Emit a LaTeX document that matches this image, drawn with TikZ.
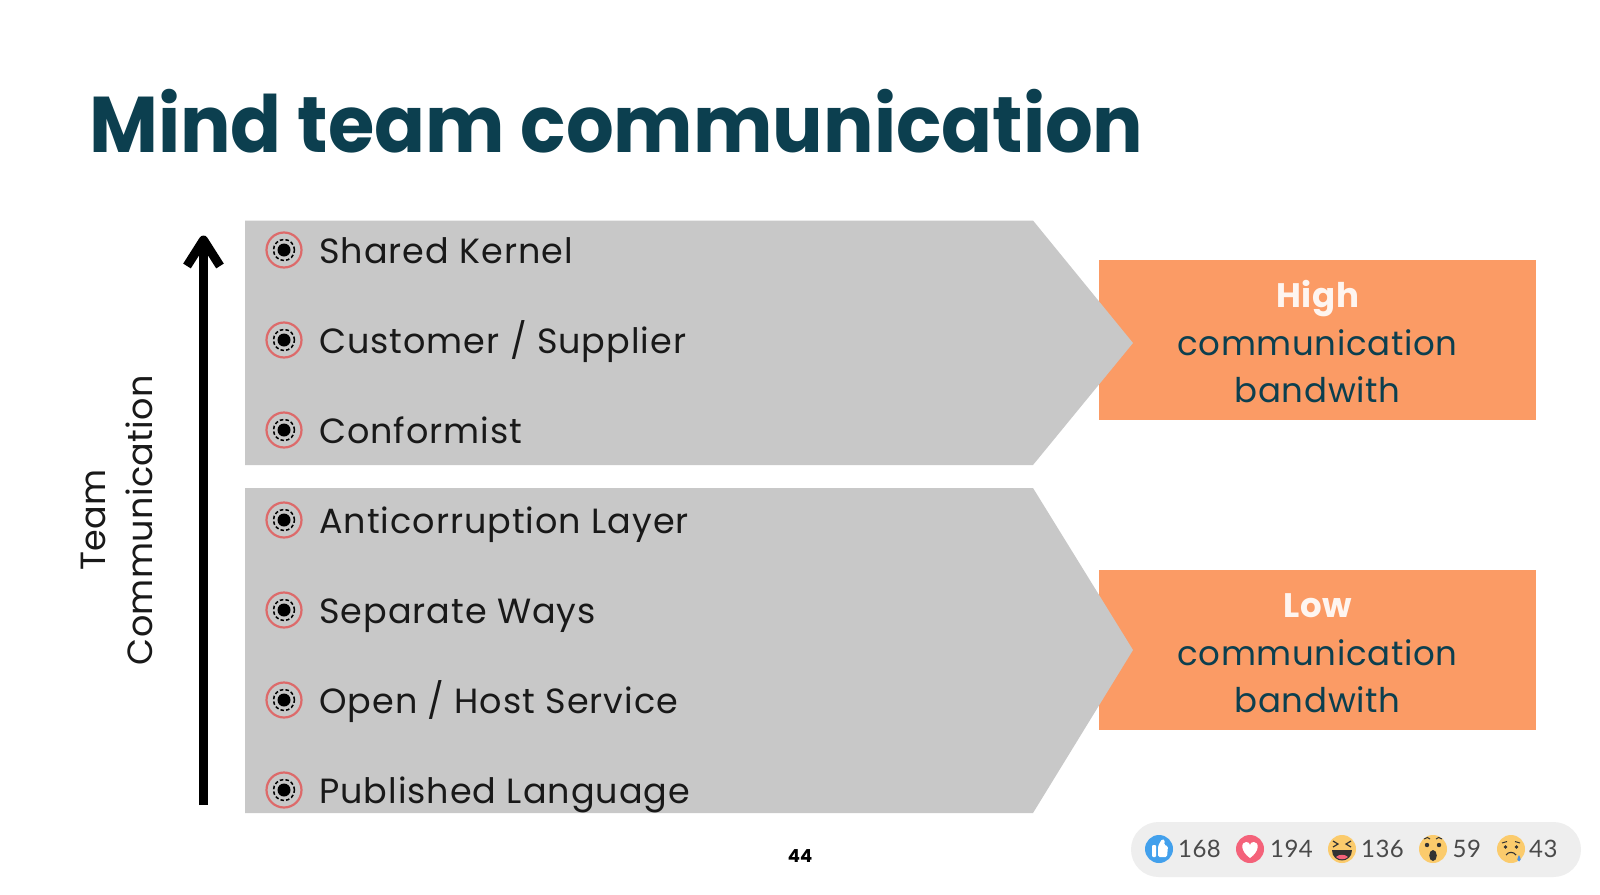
\documentclass[tikz,border=0pt]{standalone}
\usepackage{fontspec}
\setmainfont{Poppins}
\newfontfamily\numfont[LetterSpace=2]{Lato}
\newfontfamily\itemfont[LetterSpace=2.8]{Poppins}
\newfontfamily\bandfont[LetterSpace=2]{Poppins}
\newfontfamily\axisfont[LetterSpace=1]{Poppins}
\usetikzlibrary{arrows.meta}
\definecolor{teal}{HTML}{0C3F4F}
\definecolor{chev}{HTML}{C8C8C8}
\definecolor{orng}{HTML}{FB9B65}
\definecolor{ringred}{HTML}{DD6A6A}
\definecolor{pill}{HTML}{EEEEEE}
\definecolor{numc}{HTML}{4A4A4A}
\definecolor{yel}{HTML}{FBCB6C}
\definecolor{likeblue}{HTML}{42A0EC}
\definecolor{lovered}{HTML}{F4627A}
\definecolor{tear}{HTML}{4A90E2}
\tikzset{
 x=1pt,y=-1pt,
 chevron/.style={fill=chev,draw=none},
 bandbox/.style={fill=orng,draw=none,minimum width=437pt,minimum height=160pt,inner sep=0pt},
 bandtext/.style={inner sep=0pt,align=center,text=teal,font=\bandfont\fontsize{34}{47.5}\selectfont},
 itemlabel/.style={anchor=base west,inner sep=0pt,text=black!90,font=\itemfont\fontsize{35}{40}\selectfont},
 cnt/.style={anchor=west,inner sep=0pt,text=numc,font=\numfont\fontsize{24}{28}\selectfont},
 ring/.style={circle,draw=ringred,line width=2.2pt,minimum size=35pt,inner sep=0pt},
 emo/.style={circle,fill=yel,minimum size=28pt,inner sep=0pt},
}
\newcommand{\bulletat}[4]{%
 \node[ring] (#1) at (284,#2) {};
 \fill[black] (#1.center) circle (6.5pt);
 \draw[black,line width=1.5pt,dash pattern=on 3.5pt off 2.2pt] (#1.center) circle (10.5pt);
 \node[itemlabel] (#1t) at (319,#3) {#4};
}
\begin{document}
\begin{tikzpicture}
\useasboundingbox (0,0) rectangle (1600,894);
\fill[white] (0,0) rectangle (1600,894);
\node[anchor=base west,inner sep=0pt,text=teal,font=\fontsize{79}{90}\bfseries\selectfont] (title) at (89,152) {\scalebox{.95}[1]{Mind team communication}};
\node[bandbox] (high) at (1317.5,340) {};
\node[bandbox] (low) at (1317.5,650) {};
\fill[chevron] (245,220.5) -- (1033,220.5) -- (1133,343) -- (1033,465) -- (245,465) -- cycle;
\fill[chevron] (245,488) -- (1033,488) -- (1133,650) -- (1033,813) -- (245,813) -- cycle;
\node[bandtext] (hight) at (1317.5,342) {\textcolor{white!90!orng}{\bfseries High}\\communication\\bandwith};
\node[bandtext] (lowt) at (1317.5,653.5) {\textcolor{white!90!orng}{\bfseries Low}\\communication\\bandwith};
\bulletat{a}{250}{263.5}{Shared Kernel}
\bulletat{b}{340}{353.5}{Customer / Supplier}
\bulletat{c}{430}{443.5}{Conformist}
\bulletat{d}{520}{533.5}{Anticorruption Layer}
\bulletat{e}{610}{623.5}{Separate Ways}
\bulletat{f}{700}{713.5}{Open / Host Service}
\bulletat{g}{790}{803.5}{Published Language}
\coordinate (abot) at (203.5,805);
\coordinate (atop) at (203.5,240);
\draw[black,line width=9pt] (abot) -- (atop);
\draw[black,line width=9pt,line join=round] (187,266) -- (atop) -- (220,266);
\node[rotate=90,align=center,inner sep=0pt,text=black!90,font=\axisfont\fontsize{35}{47}\selectfont] (axis) at (117,520) {Team\\Communication};
\node[inner sep=0pt,text=black,font=\fontsize{18}{20}\bfseries\selectfont] (page) at (800,856) {44};
\fill[pill,rounded corners=27.5pt] (1131,822) rectangle (1581,877);
\node[circle,fill=likeblue,minimum size=28pt,inner sep=0pt] (like) at (1159,849) {};
\fill[white,rounded corners=1pt] (1152,845) rectangle (1156,857);
\fill[white,rounded corners=1.5pt] (1158,846) -- (1162,839) -- (1165,840) -- (1164,845) -- (1168,846) -- (1167,857) -- (1158,857) -- cycle;
\node[cnt] (n1) at (1178,849) {168};
\node[circle,fill=lovered,minimum size=28pt,inner sep=0pt] (love) at (1250,849) {};
\fill[white] (1250,858) .. controls (1240,851) and (1241,842) .. (1246,842) .. controls (1248,842) and (1250,843) .. (1250,845) .. controls (1250,843) and (1252,842) .. (1254,842) .. controls (1259,842) and (1260,851) .. (1250,858) -- cycle;
\node[cnt] (n2) at (1270,849) {194};
\node[emo] (haha) at (1342,849) {};
\draw[black!80,line width=1.2pt] (1333,841) -- (1338,844) -- (1333,847);
\draw[black!80,line width=1.2pt] (1351,841) -- (1346,844) -- (1351,847);
\fill[black!80] (1332,850) -- (1352,850) .. controls (1352,864) and (1332,864) .. (1332,850) -- cycle;
\fill[lovered] (1336,857) .. controls (1339,854) and (1345,854) .. (1348,857) .. controls (1345,860) and (1339,860) .. (1336,857) -- cycle;
\node[cnt] (n3) at (1361,849) {136};
\node[emo] (wow) at (1433,849) {};
\fill[black!80] (1427,845) circle (2.2pt) (1439,845) circle (2.2pt);
\fill[black!80] (1433,855.5) ellipse (3.8pt and 5.5pt);
\draw[black!80,line width=1pt] (1424,839) .. controls (1426,837) and (1429,837) .. (1430,839);
\draw[black!80,line width=1pt] (1436,839) .. controls (1437,837) and (1440,837) .. (1442,839);
\node[cnt] (n4) at (1452.5,849) {59};
\node[emo] (sad) at (1511,849) {};
\fill[black!80] (1505.5,847) circle (1.8pt) (1516.5,847) circle (1.8pt);
\draw[black!80,line width=1pt] (1502,843) -- (1507,841.5);
\draw[black!80,line width=1pt] (1520,843) -- (1515,841.5);
\draw[black!80,line width=1.1pt] (1506,855) .. controls (1508,851.5) and (1514,851.5) .. (1516,855);
\fill[tear] (1519,855) .. controls (1517,859) and (1516.5,861) .. (1519,861.5) .. controls (1521.5,861) and (1521,859) .. (1519,855) -- cycle;
\node[cnt] (n5) at (1529,849) {43};
\end{tikzpicture}
\end{document}
